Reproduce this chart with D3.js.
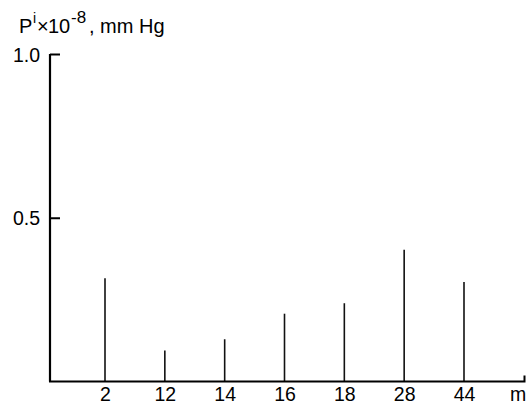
<!DOCTYPE html>
<html>
<head>
<meta charset="utf-8">
<script src="https://cdn.jsdelivr.net/npm/d3@7"></script>
<style>
  body { margin: 0; background: #fff; }
  text { font-family: "Liberation Sans", Arial, sans-serif; fill: #000; }
</style>
</head>
<body>
<svg id="chart" width="526" height="406"></svg>
<script>
// mass numbers and partial pressures
let masses = ["2", "12", "14", "16", "18", "28", "44"];
let pressures = [0.315, 0.095, 0.129, 0.207, 0.239, 0.402, 0.304];
let yTicks = [0.5, 1.0];

var svg = d3.select("#chart");

var x = d3.scalePoint().domain(masses).range([105, 464]);
var y = d3.scaleLinear().domain([0, 1]).range([381.5, 54]);

// bars (thin lines)
svg.selectAll(".bar")
  .data(masses)
  .enter()
  .append("line")
  .attr("x1", d => x(d))
  .attr("x2", d => x(d))
  .attr("y1", y(0))
  .attr("y2", (d, i) => y(pressures[i]))
  .attr("stroke", "#111")
  .attr("stroke-width", 1.6);

// y axis with inward ticks
var yAxis = d3.axisRight(y).tickValues(yTicks).tickSize(10).tickFormat(d3.format(".1f"));
var gy = svg.append("g").attr("transform", "translate(50,0)").call(yAxis);
gy.select(".domain").attr("d", `M0,${y(0)}V${y(1)}`).attr("stroke", "#000").attr("stroke-width", 2.2);
gy.selectAll(".tick line").attr("stroke", "#000").attr("stroke-width", 2);
gy.selectAll(".tick text")
  .attr("x", -10)
  .attr("dy", "0.36em")
  .attr("text-anchor", "end")
  .style("font-size", "19.5px");

// x axis
var xAxis = d3.axisBottom(x).tickSize(0).tickPadding(0);
var gx = svg.append("g").attr("transform", `translate(0,${y(0)})`).call(xAxis);
gx.select(".domain").attr("d", "M49,0H524.5V-6").attr("stroke", "#000").attr("stroke-width", 2).attr("fill", "none");
gx.selectAll(".tick text").attr("y", 19.5).attr("dy", 0).style("font-size", "19.5px");

svg.append("text")
  .attr("x", 510)
  .attr("y", 401)
  .style("font-size", "19.5px")
  .text("m");

// y title, pieces placed one by one
var title = svg.append("text").attr("y", 33).style("font-size", "20px");
title.append("tspan").attr("x", 19).text("P");
title.append("tspan").attr("x", 33).attr("y", 23).style("font-size", "14px").text("i");
title.append("tspan").attr("x", 37).attr("y", 33).text("×");
title.append("tspan").attr("x", 48).text("10");
title.append("tspan").attr("x", 71).attr("y", 23).style("font-size", "17px").text("-8");
title.append("tspan").attr("x", 89).attr("y", 33).text(", mm Hg");
</script>
</body>
</html>
